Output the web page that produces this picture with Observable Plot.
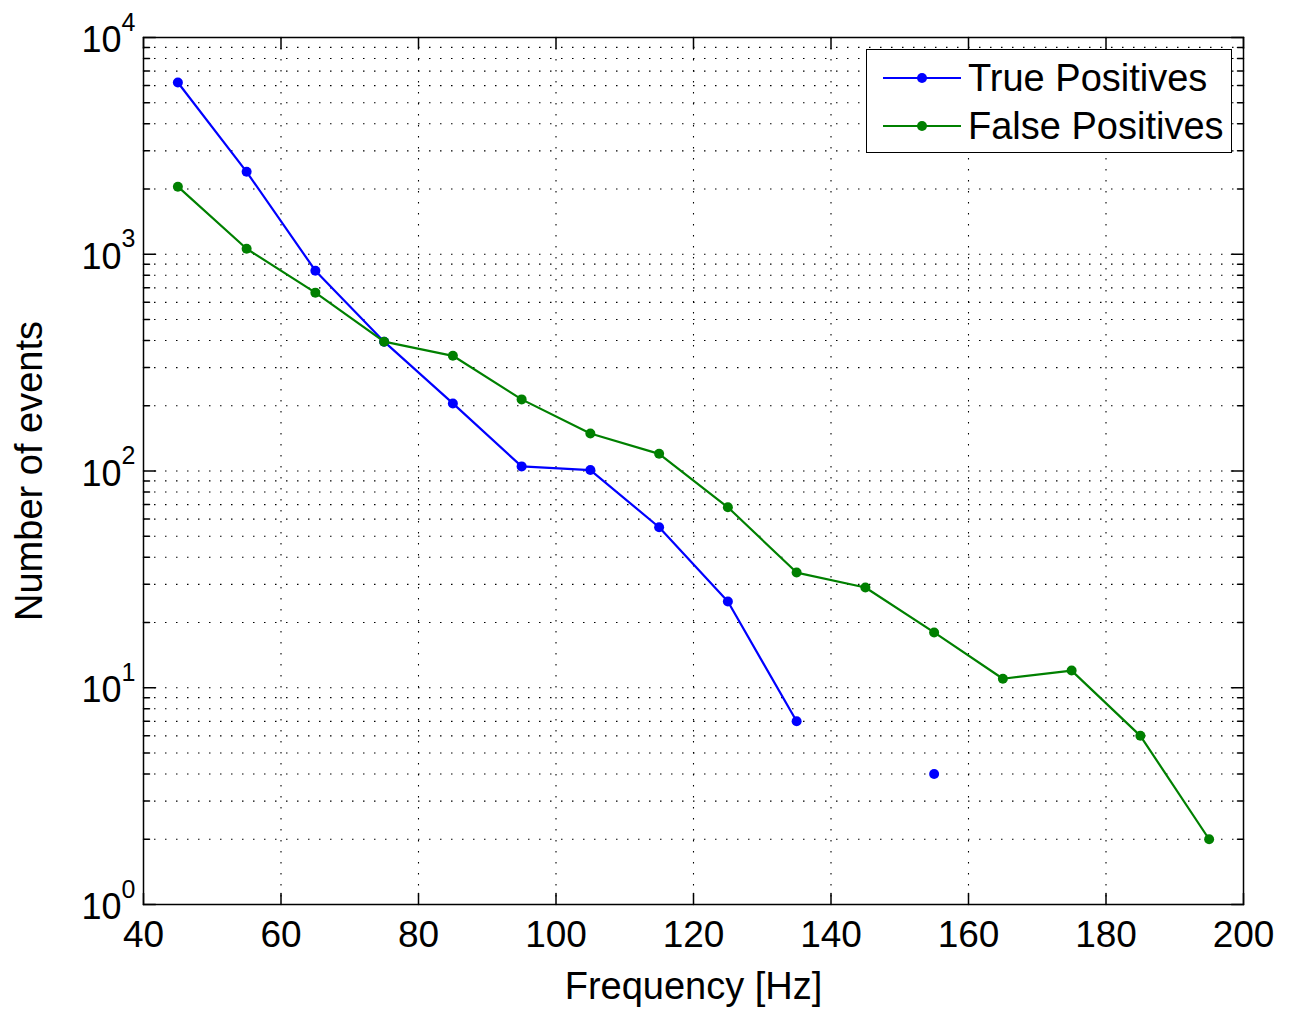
<!DOCTYPE html>
<html>
<head>
<meta charset="utf-8">
<script src="https://cdn.jsdelivr.net/npm/d3@7"></script>
<script src="https://cdn.jsdelivr.net/npm/@observablehq/plot@0.6"></script>
<style>
  html, body { margin: 0; padding: 0; background: #fff; }
  #wrap { position: relative; width: 1295px; height: 1013px; font-family: "Liberation Sans", Arial, Helvetica, sans-serif; }
  #legend { position: absolute; left: 866px; top: 49px; width: 366px; height: 104px; box-sizing: border-box;
            border: 1.5px solid #000; background: #fff; }
  .row { position: absolute; left: 0; height: 48px; display: flex; align-items: center; }
  .row svg { margin-left: 16px; }
  .row span { font-size: 38px; color: #000; margin-left: 7px; line-height: 1; }
</style>
</head>
<body>
<div id="wrap"></div>
<script>
// ---- data ----
const freq = [45, 55, 65, 75, 85, 95, 105, 115, 125, 135, 145, 155, 165, 175, 185, 195];
const truePositives = [6200, 2400, 840, 395, 205, 105, 101, 55, 25, 7, null, 4, null, null, null, null];
const falsePositives = [2050, 1060, 665, 395, 340, 214, 149, 120, 68, 34, 29, 18, 11, 12, 6, 2];
const seriesNames = ["True Positives", "False Positives"];
const seriesColors = ["#0000ff", "#008000"];
const xTicks = [40, 60, 80, 100, 120, 140, 160, 180, 200];
const yDecades = [1, 10, 100, 1000, 10000];
const yExponents = ["0", "1", "2", "3", "4"];
const xLabel = "Frequency [Hz]";
const yLabel = "Number of events";

// ---- derived tables ----
const tp = freq.map((f, i) => ({x: f, y: truePositives[i]}));
const fp = freq.map((f, i) => ({x: f, y: falsePositives[i]}));
const yMinor = [];
for (const d of yDecades.slice(0, -1)) for (let m = 2; m <= 9; ++m) yMinor.push(d * m);
const yGrid = yDecades.slice(1, -1).concat(yMinor);
const xGrid = xTicks.slice(1, -1);
const yTickLabels = yDecades.map((d, i) => ({v: d, e: yExponents[i]}));

const line = {draw(ctx, l) { ctx.moveTo(0, 0); ctx.lineTo(0, -l); }};
const dotted = {stroke: "#000", strokeWidth: 1.1, strokeDasharray: "1.5,9.5"};
const font = "Liberation Sans, Arial, Helvetica, sans-serif";

const plot = Plot.plot({
  width: 1295,
  height: 1013,
  marginLeft: 143,
  marginRight: 52,
  marginTop: 37,
  marginBottom: 109,
  style: {fontFamily: font, background: "#fff", color: "#000"},
  x: {domain: [40, 200], axis: null},
  y: {type: "log", domain: [1, 10000], axis: null},
  marks: [
    // grid
    Plot.ruleX(xGrid, {x: d => d, ...dotted}),
    Plot.ruleY(yGrid, {y: d => d, ...dotted}),
    // ticks (inward)
    Plot.vector(yDecades, {x: 40, y: d => d, length: 12, rotate: 90, anchor: "start", shape: line, stroke: "#000", strokeWidth: 1.5}),
    Plot.vector(yDecades, {x: 200, y: d => d, length: 12, rotate: -90, anchor: "start", shape: line, stroke: "#000", strokeWidth: 1.5}),
    Plot.vector(yMinor, {x: 40, y: d => d, length: 6, rotate: 90, anchor: "start", shape: line, stroke: "#000", strokeWidth: 1.5}),
    Plot.vector(yMinor, {x: 200, y: d => d, length: 6, rotate: -90, anchor: "start", shape: line, stroke: "#000", strokeWidth: 1.5}),
    Plot.vector(xTicks, {x: d => d, y: 1, length: 11, rotate: 0, anchor: "start", shape: line, stroke: "#000", strokeWidth: 1.5}),
    Plot.vector(xTicks, {x: d => d, y: 10000, length: 11, rotate: 180, anchor: "start", shape: line, stroke: "#000", strokeWidth: 1.5}),
    // frame
    Plot.frame({stroke: "#000", strokeWidth: 1.5}),
    // data
    Plot.line(tp, {x: "x", y: "y", stroke: seriesColors[0], strokeWidth: 2.2}),
    Plot.dot(tp.filter(d => d.y != null), {x: "x", y: "y", r: 5, fill: seriesColors[0]}),
    Plot.line(fp, {x: "x", y: "y", stroke: seriesColors[1], strokeWidth: 2.2}),
    Plot.dot(fp.filter(d => d.y != null), {x: "x", y: "y", r: 5, fill: seriesColors[1]}),
    // x tick labels
    Plot.text(xTicks, {x: d => d, y: 1, text: d => String(d), dy: 31, fontSize: 37, lineAnchor: "middle", fill: "#000"}),
    // y tick labels: 10 with superscript exponent
    Plot.text(yTickLabels, {x: 40, y: "v", text: () => "10", dx: -22, dy: 3, textAnchor: "end", lineAnchor: "middle", fontSize: 36, fill: "#000"}),
    Plot.text(yTickLabels, {x: 40, y: "v", text: "e", dx: -22, dy: -15, textAnchor: "start", lineAnchor: "middle", fontSize: 25, fill: "#000"}),
    // axis labels
    Plot.text([xLabel], {frameAnchor: "bottom", text: d => d, dy: 82, lineAnchor: "middle", fontSize: 38, fill: "#000"}),
    Plot.text([yLabel], {frameAnchor: "left", text: d => d, dx: -114, rotate: -90, textAnchor: "middle", lineAnchor: "middle", fontSize: 38, fill: "#000"})
  ]
});

const wrap = document.getElementById("wrap");
wrap.appendChild(plot);

// legend
const legend = document.createElement("div");
legend.id = "legend";
seriesNames.forEach((name, i) => {
  const row = document.createElement("div");
  row.className = "row";
  row.style.top = (i === 0 ? 4 : 52) + "px";
  row.innerHTML = `<svg width="78" height="20"><line x1="0" y1="10" x2="78" y2="10" stroke="${seriesColors[i]}" stroke-width="2.2"/><circle cx="39" cy="10" r="5" fill="${seriesColors[i]}"/></svg><span>${name}</span>`;
  legend.appendChild(row);
});
wrap.appendChild(legend);
</script>
</body>
</html>
